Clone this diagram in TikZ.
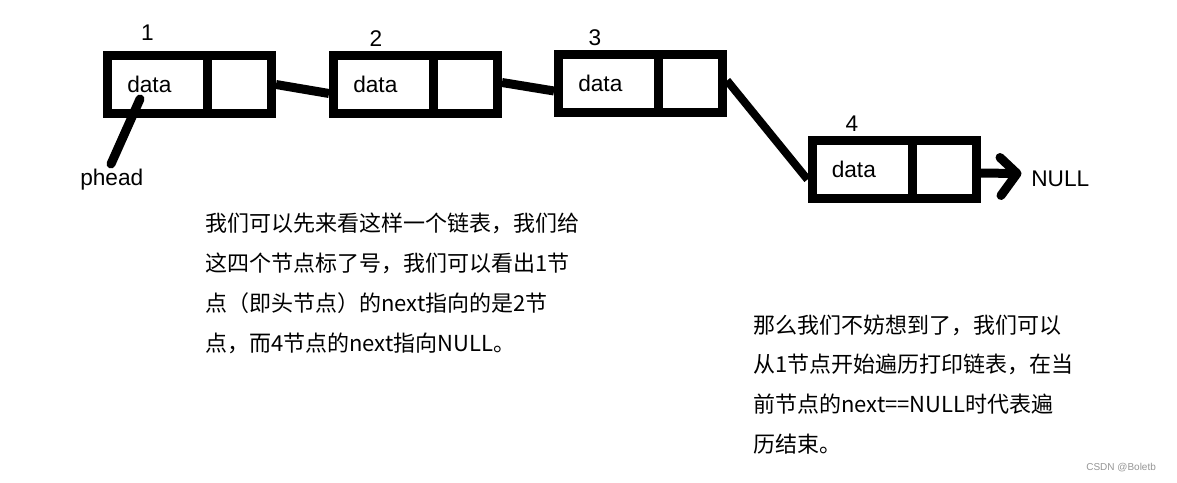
\documentclass[tikz,border=0pt]{standalone}
\usepackage{fontspec}
\setmainfont{Liberation Sans}
\newfontfamily\cjk{Noto Sans CJK SC}
\usetikzlibrary{calc}
\definecolor{wm}{RGB}{150,150,150}
\begin{document}
\begin{tikzpicture}[x=0.75pt,y=-0.75pt,
  box/.style={draw, line width=6.75pt, minimum width=123pt, minimum height=43.5pt, inner sep=0pt},
  divider/.style={line width=6.75pt},
  num/.style={font=\fontsize{17}{20}\selectfont, inner sep=0pt, anchor=base},
  lat/.style={font=\fontsize{17}{20}\selectfont, inner sep=0pt, anchor=base west},
  link/.style={line width=6.75pt},
  thinlink/.style={line width=6pt},
  pline/.style={line width=6.75pt, line cap=round},
  txt/.style={font=\cjk\fontsize{16.5}{20}\selectfont, inner sep=0pt, anchor=base west},
  wmark/.style={font=\fontsize{7.5}{9}\selectfont, text=wm, inner sep=0pt, anchor=base west}
]
\fill[white] (0,0) rectangle (1177,482);
\useasboundingbox (0,0) rectangle (1177,482);

% boxes
\node[box] (b1) at (189.5,84.5) {};
\node[box] (b2) at (415.5,84.5) {};
\node[box] (b3) at (640.5,83.5) {};
\node[box] (b4) at (894,169.5) {};
\foreach \b in {b1,b2,b3,b4}{
  \draw[divider] ([xshift=13.5pt]\b.north) -- ([xshift=13.5pt]\b.south);
}

% data labels
\node[lat] (d1) at (127,92) {data};
\node[lat] (d2) at (353,92) {data};
\node[lat] (d3) at (578,91) {data};
\node[lat] (d4) at (831.5,177.5) {data};

% numbers
\node[num] (n1) at (147.5,40) {1};
\node[num] (n2) at (376,46.5) {2};
\node[num] (n3) at (595,45) {3};
\node[num] (n4) at (852,131.5) {4};

% connectors
\draw[link] (b1.east) -- ($(b2.west)+(0,9)$);
\draw[link] ($(b2.east)+(0,-2)$) -- ($(b3.west)+(0,7.5)$);
\draw[thinlink] ($(b3.east)+(0,-3)$) -- ($(b4.west)+(0,10)$);

% phead
\node[lat] (ph) at (80,185) {phead};
\coordinate (phA) at (111,164);
\coordinate (phB) at (140,99);
\draw[pline] (phA) -- (phB);

% NULL arrow
\node[lat] (null) at (1031,186) {NULL};
\coordinate (nt) at (1017,173.5);
\draw[link] ($(b4.east)+(0,3.5)$) -- (nt);
\draw[link, line cap=round, line join=round] ($(nt)+(-17,-16)$) -- (nt) -- ($(nt)+(-16,22)$);

% text block 1
\node[txt] (t1) at (205,231) {我们可以先来看这样一个链表，我们给};
\node[txt] (t2) at (205,271) {这四个节点标了号，我们可以看出1节};
\node[txt] (t3) at (205,311) {点（即头节点）的next指向的是2节};
\node[txt] (t4) at (205,351.4) {点，而4节点的next指向NULL。};

% text block 2
\node[txt] (s1) at (753,333.4) {那么我们不妨想到了，我们可以};
\node[txt] (s2) at (753,372) {从1节点开始遍历打印链表，在当};
\node[txt] (s3) at (753,412) {前节点的next==NULL时代表遍};
\node[txt] (s4) at (753,452) {历结束。};

% watermark
\node[wmark] (wm) at (1086,470) {CSDN @Boletb};
\end{tikzpicture}
\end{document}
